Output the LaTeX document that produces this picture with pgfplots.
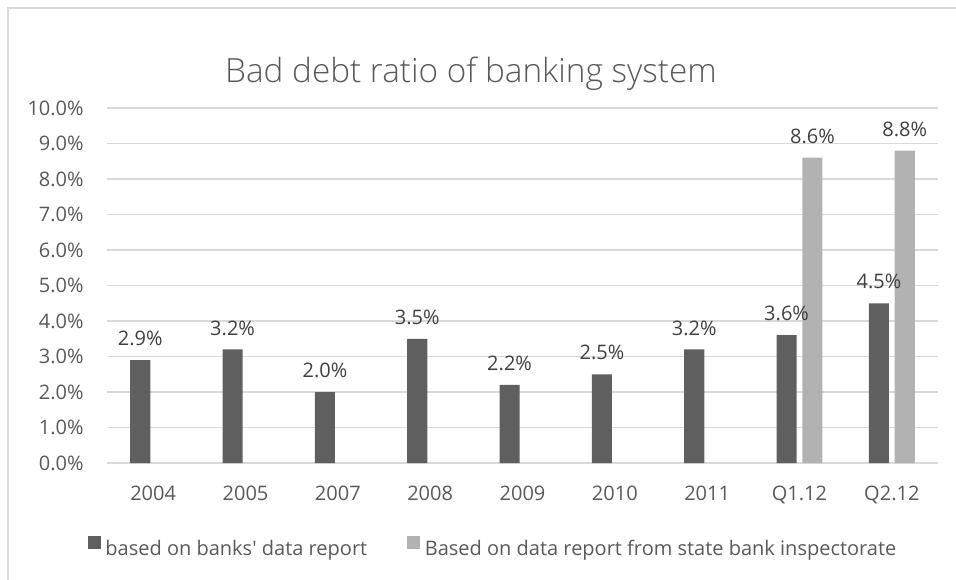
\documentclass[border=0pt]{standalone}
\usepackage{pgfplots}
\pgfplotsset{compat=1.18}
\usepackage{fontspec}
\defaultfontfeatures[\rmfamily,\sffamily]{}
\setmainfont{Open Sans}
\newfontfamily\titlefont{Open Sans Light}
\definecolor{darkbar}{HTML}{5F5F5F}
\definecolor{lightbar}{HTML}{B2B2B2}
\definecolor{txt}{HTML}{595959}
\definecolor{lbl}{HTML}{404040}
\definecolor{gridc}{HTML}{D9D9D9}
\begin{document}
\begin{tikzpicture}
\useasboundingbox (0pt,0pt) rectangle (717pt,434.25pt);
\draw[gridc, line width=0.8pt] (6pt,-1pt) -- (6pt,428.25pt) -- (718pt,428.25pt);
\node[font=\titlefont\fontsize{25}{30}\selectfont, text=txt, anchor=base] at (353.25pt,372.5pt) {Bad debt ratio of banking system};
\begin{axis}[
  at={(80.25pt,87pt)}, anchor=south west,
  scale only axis, width=623.25pt, height=266.25pt,
  xmin=-0.5, xmax=8.5, ymin=0, ymax=10,
  xtick={0,...,8},
  xticklabels={2004,2005,2007,2008,2009,2010,2011,Q1.12,Q2.12},
  ytick={0,...,10},
  yticklabel={\pgfmathprintnumber[fixed,fixed zerofill,precision=1]{\tick}\%},
  ybar, bar width=0.217,
  ymajorgrids, grid style={gridc, line width=1.1pt},
  axis line style={draw=none}, major tick length=0pt,
  tick label style={font=\fontsize{15}{18}\selectfont, text=txt},
  xticklabel style={yshift=-14pt},
  yticklabel style={xshift=-14pt},
  /pgf/number format/assume math mode=true,
  nodes near coords={\pgfmathprintnumber[fixed,fixed zerofill,precision=1]{\pgfplotspointmeta}\%},
  every node near coord/.append style={font=\fontsize{15}{18}\selectfont, text=lbl, anchor=south, yshift=7pt},
  legend style={at={(0.465,-0.239)}, anchor=center, draw=none, fill=none, legend columns=2,
    font=\fontsize{15}{18}\selectfont, text=txt,
    /tikz/every even column/.append style={column sep=28pt}},
  legend image code/.code={\fill[#1] (0pt,0pt) rectangle (9.75pt,9.75pt);},
]
\addplot[fill=darkbar, draw=none, bar shift=-0.14] coordinates {
(0,2.9) (1,3.2) (2,2.0) (3,3.5) (4,2.2) (5,2.5) (6,3.2) (7,3.6) (8,4.5)};
\addlegendentry{\hspace{1.5pt}based on banks\symbol{39} data report}
\addplot[fill=lightbar, draw=none, bar shift=0.14] coordinates {
(7,8.6) (8,8.8)};
\addlegendentry{\hspace{1.5pt}Based on data report from state bank inspectorate}
\end{axis}
\end{tikzpicture}
\end{document}
